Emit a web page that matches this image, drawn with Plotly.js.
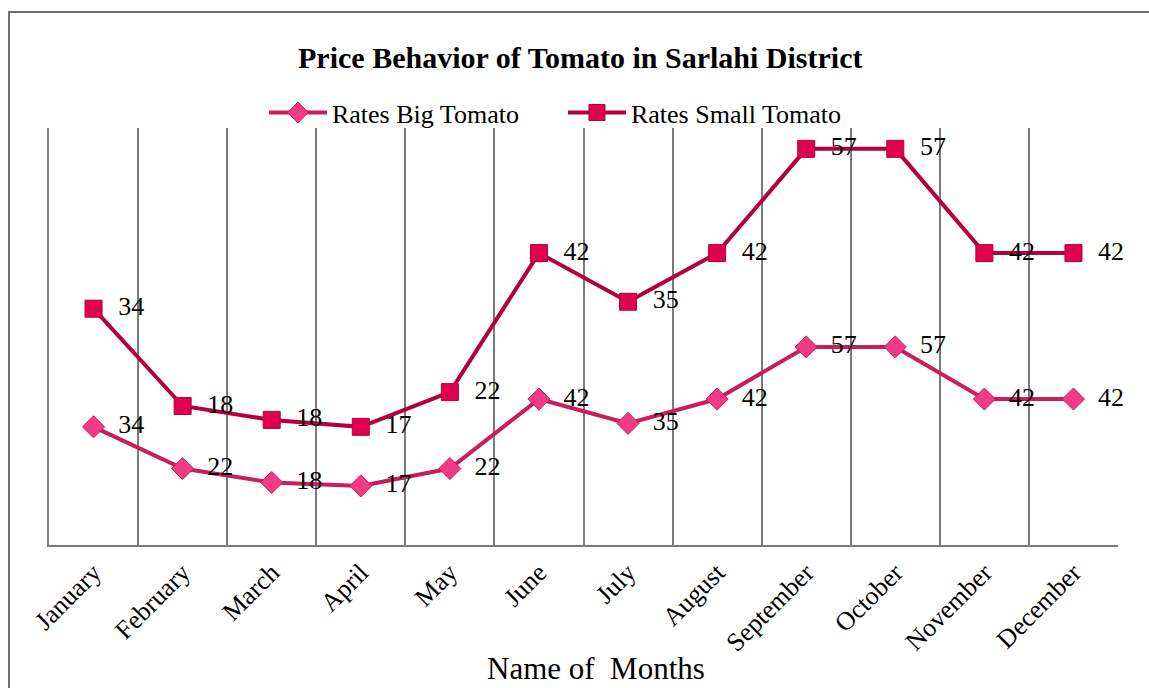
<!DOCTYPE html>
<html>
<head>
<meta charset="utf-8">
<script src="https://cdn.plot.ly/plotly-3.0.1.min.js"></script>
<style>
html, body { margin:0; padding:0; width:1149px; height:688px; overflow:hidden; background:#fff; }
#frame { position:absolute; left:8px; top:11px; width:1300px; height:800px; border:2px solid #6e6e6e; box-sizing:border-box; }
#chart { position:absolute; left:0; top:0; width:1149px; height:688px; }
</style>
</head>
<body>
<div id="frame"></div>
<div id="chart"></div>
<script>
const months = ["January","February","March","April","May","June","July","August","September","October","November","December"];
const bigTomato = [34, 22, 18, 17, 22, 42, 35, 42, 57, 57, 42, 42];
const smallTomato = [34, 18, 18, 17, 22, 42, 35, 42, 57, 57, 42, 42];
const xTitle = "Name of  Months";

const serif = "Liberation Serif, Times New Roman, serif";
const labelFont = {family: serif, size: 26, color: "#000"};
const pad = "\u00a0\u00a0";

const traces = [
  {
    x: months, y: bigTomato, name: "Rates Big Tomato",
    type: "scatter", mode: "lines+markers+text", stackgroup: "one", fill: "none",
    text: bigTomato.map(v => pad + v), textposition: "middle right", textfont: labelFont,
    line: {color: "#C81E5E", width: 4},
    marker: {symbol: "diamond", size: 17, color: "#F03C84", line: {color: "#C81E5E", width: 1}},
    cliponaxis: false
  },
  {
    x: months, y: smallTomato, name: "Rates Small Tomato",
    type: "scatter", mode: "lines+markers+text", stackgroup: "one", fill: "none",
    text: smallTomato.map(v => pad + v), textposition: "middle right", textfont: labelFont,
    line: {color: "#B3003F", width: 4},
    marker: {symbol: "square", size: 17, color: "#E0004E", line: {color: "#B3003F", width: 1}},
    cliponaxis: false
  }
];

const layout = {
  width: 1149, height: 688,
  paper_bgcolor: "rgba(0,0,0,0)", plot_bgcolor: "rgba(0,0,0,0)",
  margin: {l: 49, r: 31, t: 128, b: 143},
  title: {
    text: "<b>Price Behavior of Tomato in Sarlahi District</b>",
    font: {family: serif, size: 30, color: "#000"},
    x: 0.505, xanchor: "center", y: 0.917, yanchor: "middle"
  },
  showlegend: true,
  legend: {
    orientation: "h", x: 0.2011, xanchor: "left", y: 1.037, yanchor: "middle",
    font: {family: serif, size: 26, color: "#000"},
    traceorder: "normal", bgcolor: "rgba(0,0,0,0)",
    itemwidth: 58, entrywidth: 226, entrywidthmode: "pixels"
  },
  xaxis: {
    type: "category", tickson: "boundaries", range: [-0.5, 11.5],
    showgrid: true, gridcolor: "#7a7a7a", gridwidth: 2,
    showline: true, linecolor: "#7a7a7a", linewidth: 2,
    ticks: "", tickangle: -45,
    tickfont: {family: serif, size: 26, color: "#000"},
    zeroline: false, fixedrange: true, automargin: false
  },
  yaxis: {
    range: [0, 120], showgrid: false, zeroline: false,
    showline: true, linecolor: "#7a7a7a", linewidth: 2,
    showticklabels: false, ticks: "", fixedrange: true
  },
  annotations: [{
    text: xTitle, xref: "paper", yref: "paper", x: 0.5117, y: -0.296,
    xanchor: "center", yanchor: "middle", showarrow: false,
    font: {family: serif, size: 31, color: "#000"}
  }]
};

Plotly.newPlot("chart", traces, layout, {displayModeBar: false, staticPlot: true});
</script>
</body>
</html>
